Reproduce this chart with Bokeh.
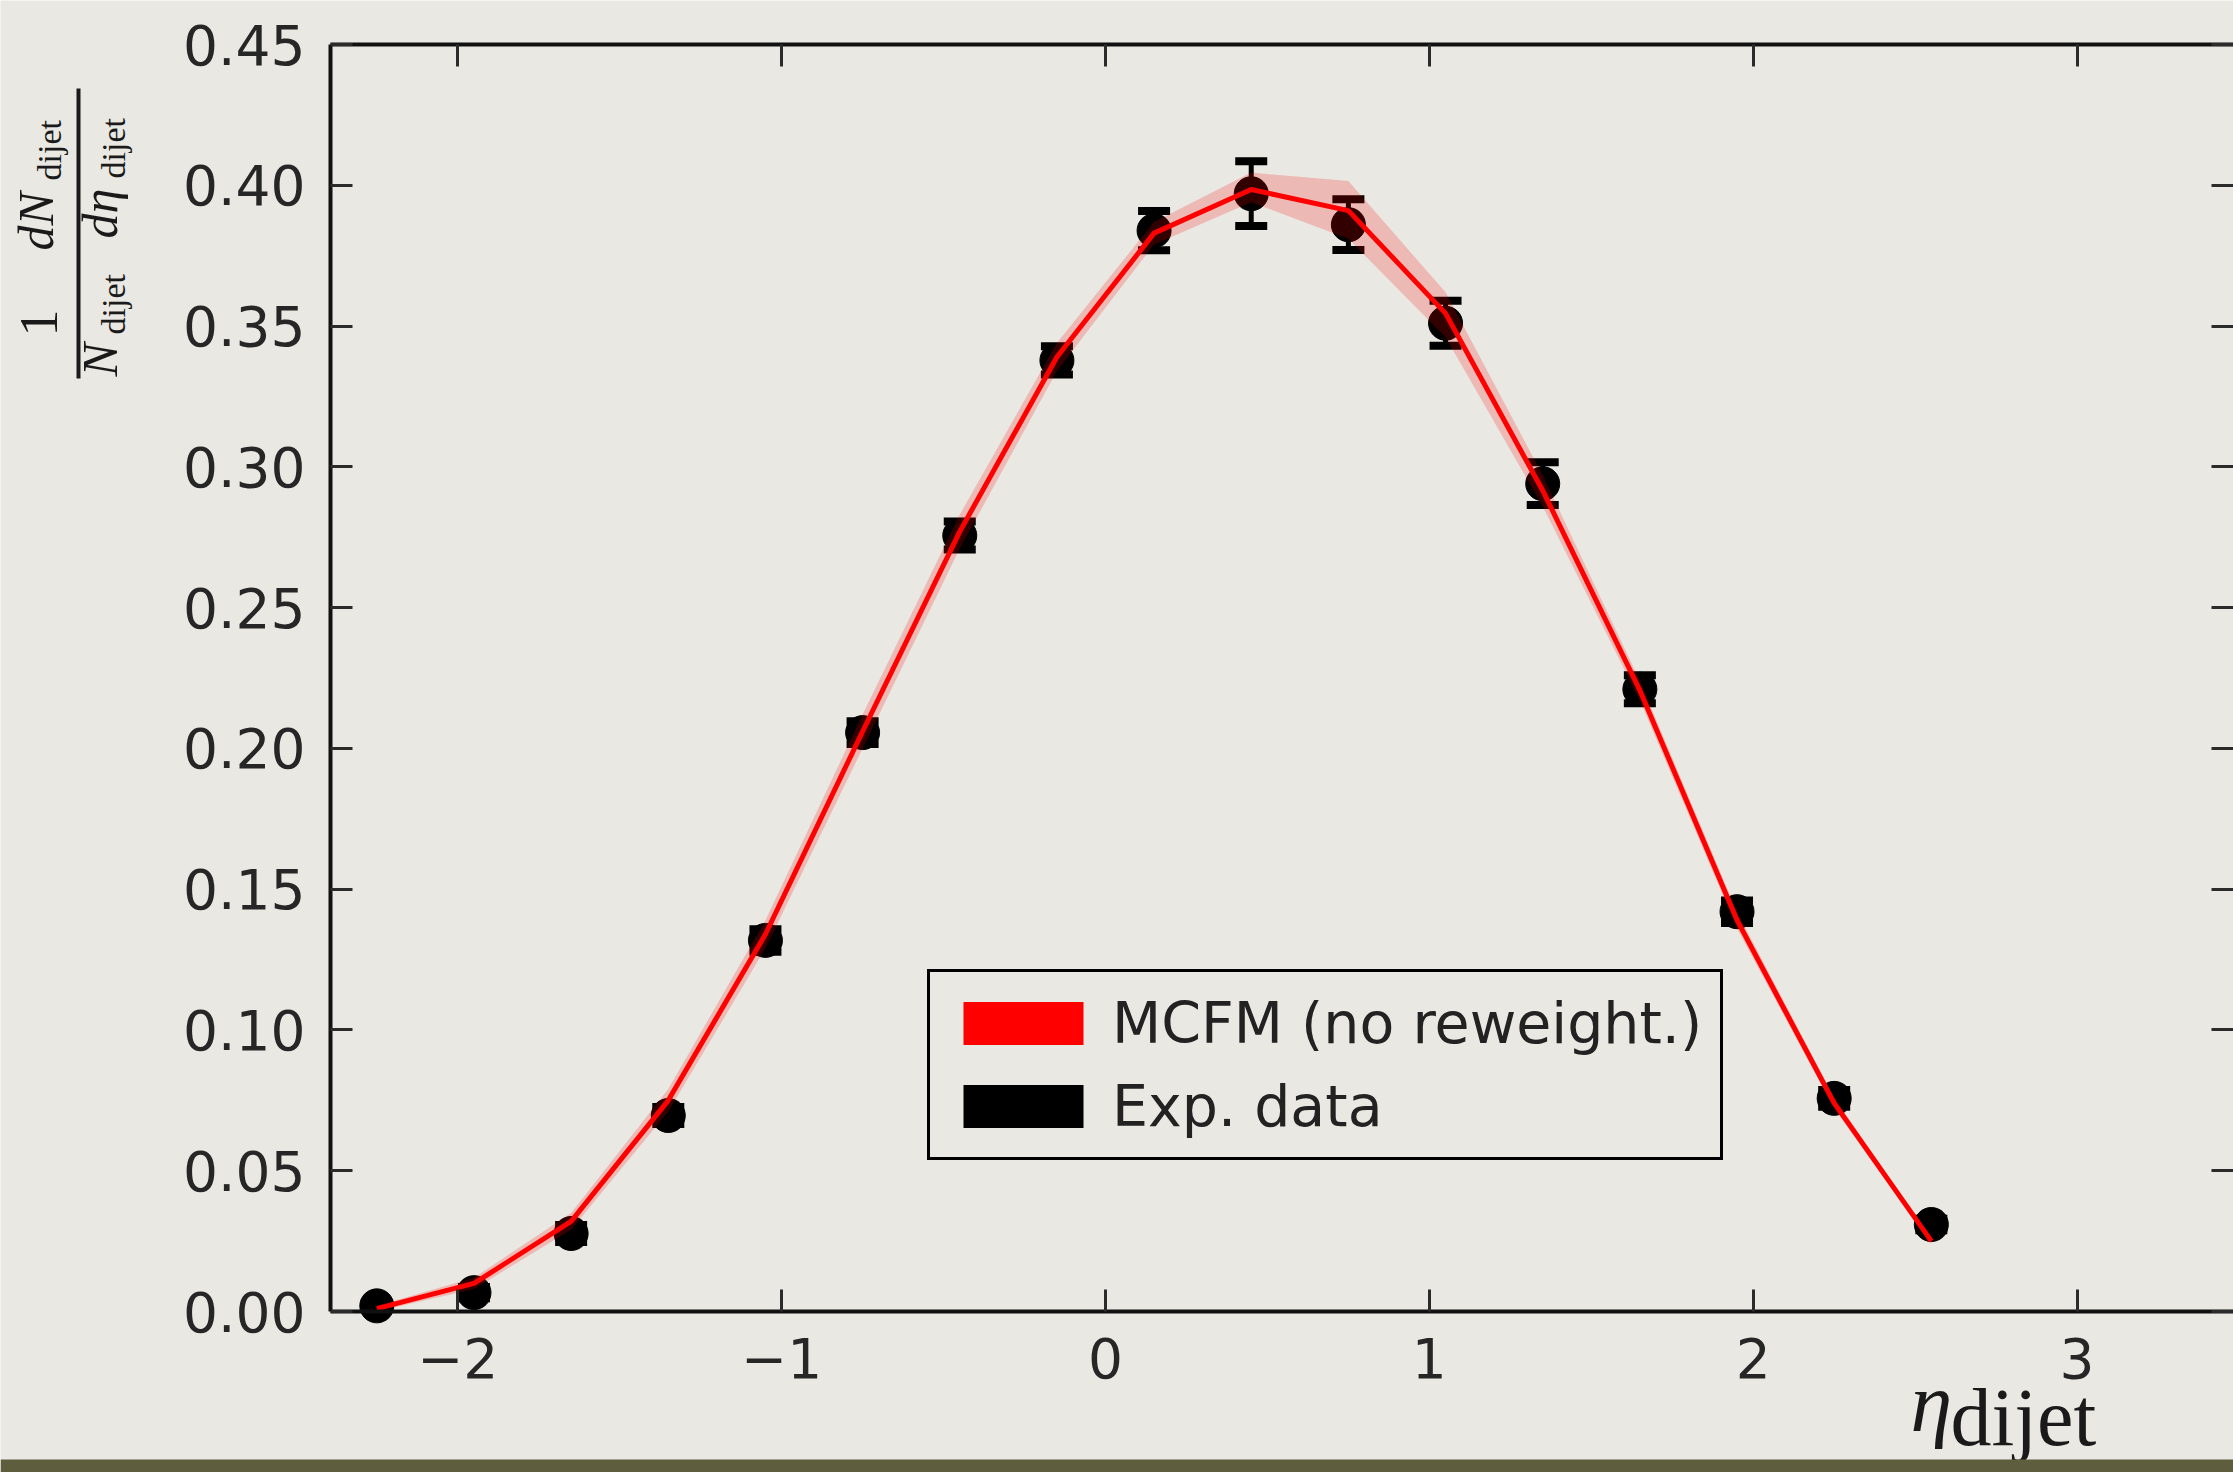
from math import pi
from bokeh.plotting import figure
from bokeh.models import (Range1d, LinearAxis, FixedTicker, NumeralTickFormatter, CustomJSTickFormatter,
                          Legend, LegendItem, Label, BoxAnnotation)
from bokeh.embed import file_html
from bokeh.resources import INLINE

# ---------------- data ----------------
eta = [-2.25, -1.95, -1.65, -1.35, -1.05, -0.75, -0.45, -0.15, 0.15, 0.45,
       0.75, 1.05, 1.35, 1.65, 1.95, 2.25, 2.55]
mcfm = [0.001, 0.010, 0.032, 0.075, 0.134, 0.206, 0.277, 0.339, 0.383, 0.3985,
        0.391, 0.3545, 0.2916, 0.2206, 0.139, 0.074, 0.025]
mcfm_lo = [0.000, 0.008, 0.029, 0.071, 0.129, 0.200, 0.271, 0.334, 0.379, 0.394,
           0.381, 0.346, 0.286, 0.217, 0.136, 0.072, 0.024]
mcfm_hi = [0.002, 0.012, 0.035, 0.079, 0.139, 0.212, 0.283, 0.344, 0.387, 0.4045,
           0.4015, 0.362, 0.297, 0.224, 0.142, 0.076, 0.026]
exp_data = [0.002, 0.0067, 0.0277, 0.0696, 0.1318, 0.2056, 0.2756, 0.3378, 0.3839, 0.397,
            0.386, 0.351, 0.294, 0.221, 0.142, 0.0757, 0.0309]
exp_err = [0.001, 0.002, 0.003, 0.003, 0.004, 0.004, 0.005, 0.005, 0.007, 0.0115,
           0.009, 0.008, 0.0076, 0.005, 0.004, 0.003, 0.002]
x_ticks = [-2, -1, 0, 1, 2, 3]
y_ticks = [0.00, 0.05, 0.10, 0.15, 0.20, 0.25, 0.30, 0.35, 0.40, 0.45]
x_lim = (-2.393, 3.483)
y_lim = (0.0, 0.45)
series_labels = ["MCFM (no reweight.)", "Exp. data"]

# ---------------- geometry / style ----------------
BG = "#e9e8e2"
W, H = 2233, 1472
STRIP_H = 13
PX_L, PX_R, PX_T, PX_B = 330, 2233, 44, 1311   # plotting-box edges on the canvas

# The frame covers the whole canvas; the axes sit at fixed places inside it.
dx = (x_lim[1] - x_lim[0]) / (PX_R - PX_L)
dy = (y_lim[1] - y_lim[0]) / (PX_B - PX_T)
xr = Range1d(x_lim[0] - PX_L * dx, x_lim[1] + (W - PX_R) * dx)
yr = Range1d(y_lim[0] - (H - PX_B) * dy, y_lim[1] + PX_T * dy)

p = figure(width=W, height=H, title=None, output_backend="svg", toolbar_location=None,
           x_range=xr, y_range=yr, x_axis_type=None, y_axis_type=None, min_border=0,
           background_fill_color=BG, border_fill_color=BG, outline_line_color=None)

blank = CustomJSTickFormatter(code="return '';")
minus = CustomJSTickFormatter(code="return tick < 0 ? '\u2212' + Math.abs(tick) : tick.toString();")


def make_axis(side, ticks, fixed, bounds, formatter, standoff, line=True):
    ax = LinearAxis(fixed_location=fixed, bounds=bounds,
                    ticker=FixedTicker(ticks=ticks, minor_ticks=[]), formatter=formatter)
    ax.major_tick_in = 22
    ax.major_tick_out = 0
    ax.minor_tick_in = 0
    ax.minor_tick_out = 0
    ax.major_tick_line_width = 3
    ax.major_tick_line_color = "#2b2b2b"
    ax.axis_line_width = 4
    ax.axis_line_color = "#111111" if line else None
    ax.major_label_text_font = "DejaVu Sans"
    ax.major_label_text_color = "#262626"
    ax.major_label_text_font_size = "55px"
    ax.major_label_standoff = standoff
    p.add_layout(ax, side)
    return ax


make_axis("below", x_ticks, y_lim[0], x_lim, minus, 26)
make_axis("left", y_ticks, x_lim[0], y_lim, NumeralTickFormatter(format="0.00"), 25)
make_axis("above", x_ticks, y_lim[1], x_lim, blank, 0)
make_axis("right", y_ticks, x_lim[1], y_lim, blank, 0, line=False)

# ---------------- data glyphs ----------------
upper = [v + e for v, e in zip(exp_data, exp_err)]
lower = [v - e for v, e in zip(exp_data, exp_err)]
p.segment(x0=eta, y0=lower, x1=eta, y1=upper, line_color="black", line_width=5)
p.scatter(eta, upper, marker="dash", size=32, line_width=8, line_color="black")
p.scatter(eta, lower, marker="dash", size=32, line_width=8, line_color="black")
p.scatter(eta, exp_data, marker="circle", size=34, fill_color="black", line_color="black")

p.varea(x=eta, y1=mcfm_lo, y2=mcfm_hi, fill_color="#ff0000", fill_alpha=0.2)
p.line(eta, mcfm, line_color="#ff0000", line_width=5)

# zero-height areas: invisible in the plot, give solid legend swatches
mc_swatch = p.varea(x=eta, y1=mcfm, y2=mcfm, fill_color="#ff0000", fill_alpha=1.0)
ex_swatch = p.varea(x=eta, y1=exp_data, y2=exp_data, fill_color="#000000", fill_alpha=1.0)

legend = Legend(items=[LegendItem(label=series_labels[0], renderers=[mc_swatch]),
                       LegendItem(label=series_labels[1], renderers=[ex_swatch])],
                location=(927, H - 1160),
                label_text_font="DejaVu Sans", label_text_font_size="57px", label_text_color="#222222",
                glyph_width=150, glyph_height=54, label_standoff=14, spacing=17, padding=18, margin=0,
                border_line_color="black", border_line_width=3, border_line_alpha=1.0,
                background_fill_color=BG, background_fill_alpha=1.0)
p.add_layout(legend)

# ---------------- axis titles (text pieces; X, Y = baseline start on the canvas) ----------------
BASE_FIX = 0.45   # Bokeh draws the alphabetic baseline ~0.45 em lower than the anchor


def add_text(txt, X, Y, size, style="normal", rotated=False):
    if rotated:
        X = X - BASE_FIX * size
    else:
        Y = Y - BASE_FIX * size
    p.add_layout(Label(x=X, y=H - Y, x_units="screen", y_units="screen", text=txt,
                       text_font="Liberation Serif", text_font_size=f"{size}px",
                       text_font_style=style, angle=pi / 2 if rotated else 0.0,
                       text_align="left", text_baseline="alphabetic", text_color="#1a1a1a"))


# (1 / N_dijet) (dN_dijet / d eta_dijet), reading upward
add_text("1", 63, 336, 54, rotated=True)
add_text("dN", 58, 250, 50, "italic", True)
add_text("dijet", 64, 180, 34, rotated=True)
add_text("N", 122, 376, 50, "italic", True)
add_text("dijet", 128, 334, 34, rotated=True)
add_text("d\u03b7", 122, 238, 50, "italic", True)
add_text("dijet", 128, 178, 34, rotated=True)
p.add_layout(BoxAnnotation(left=76, right=80, top=H - 88, bottom=H - 378,
                           left_units="screen", right_units="screen",
                           top_units="screen", bottom_units="screen",
                           fill_color="#1a1a1a", fill_alpha=1.0, line_color=None))

# eta_dijet
add_text("\u03b7", 1910, 1440, 84, "italic")
add_text("dijet", 1950, 1454, 82)

# dark ground strip along the bottom edge of the photo
p.add_layout(BoxAnnotation(left=0, right=W, bottom=0, top=STRIP_H,
                           left_units="screen", right_units="screen",
                           top_units="screen", bottom_units="screen",
                           fill_color="#5e5d3e", fill_alpha=1.0, line_color=None))

open("out.html", "w").write(file_html(p, INLINE))
